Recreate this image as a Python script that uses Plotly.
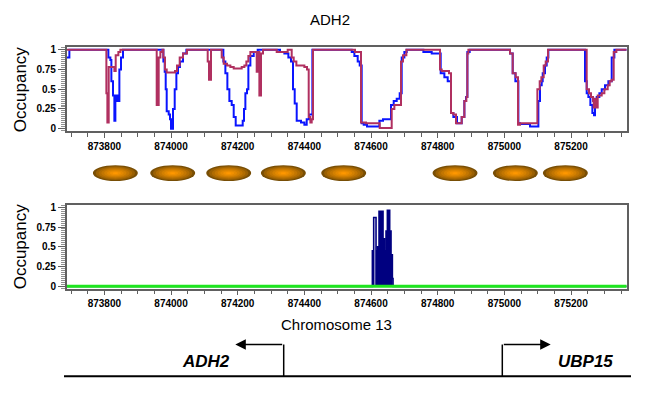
import plotly.graph_objects as go

# ---------------- data ----------------
x_range = [873687, 875367]

blue_pos = [873687, 873695,
            873812, 873818, 873821, 873826, 873830, 873833, 873839, 873845, 873850, 873856,
            873977, 873981, 873984, 873987, 873993, 873997, 874000, 874006, 874011, 874016, 874021, 874027, 874036, 874046,
            874157, 874163, 874169, 874175, 874182, 874188, 874194, 874215, 874219, 874223, 874228, 874232, 874238, 874248, 874260,
            874327, 874340, 874352, 874360, 874366, 874371, 874377, 874390, 874400, 874407, 874414, 874424,
            874542, 874550, 874560, 874566, 874572, 874578, 874588, 874625, 874636, 874660, 874668, 874677, 874686, 874692, 874700, 874707, 874757, 874782,
            874809, 874820, 874830, 874840, 874847, 874858, 874872, 874880, 874885, 874889, 874896,
            875017, 875025, 875033, 875042, 875047, 875077, 875102, 875107, 875112, 875115, 875122, 875127, 875132,
            875242, 875247, 875252, 875258, 875264, 875269, 875272, 875277, 875285, 875292, 875302, 875312, 875322, 875330, 875367]
blue_occ = [0.9, 1.0,
            0.9, 0.87, 0.6, 0.42, 0.1, 0.42, 0.35, 0.75, 0.9, 1.0,
            0.85, 0.72, 0.5, 0.22, 0.18, 0.12, 0.0, 0.25, 0.5, 0.7, 0.78, 0.85, 0.95, 1.0,
            0.85, 0.7, 0.5, 0.35, 0.3, 0.15, 0.04, 0.1, 0.25, 0.45, 0.5, 0.8, 0.92, 0.97, 1.0,
            0.97, 0.95, 0.9, 0.85, 0.5, 0.32, 0.1, 0.08, 0.05, 0.12, 0.18, 1.0,
            0.97, 0.92, 0.85, 0.8, 0.07, 0.05, 0.03, 0.1, 0.12, 0.3, 0.35, 0.38, 0.45, 0.9, 0.97, 1.0, 0.97, 0.95,
            0.7, 0.65, 0.6, 0.2, 0.15, 0.07, 0.15, 0.35, 0.4, 0.97, 1.0,
            0.95, 0.7, 0.6, 0.07, 0.06, 0.03, 0.35, 0.55, 0.6, 0.7, 0.8, 0.9, 1.0,
            0.6, 0.45, 0.4, 0.3, 0.2, 0.17, 0.35, 0.4, 0.45, 0.5, 0.55, 0.6, 0.9, 1.0, 1.0]

red_pos = [873687,
           873806, 873809, 873813, 873830, 873834, 873842, 873848,
           873957, 873963, 873968, 873974, 873977, 873982, 873987, 874012, 874018, 874026, 874036, 874048,
           874110, 874114, 874120,
           874152, 874158, 874168, 874178, 874188, 874212, 874220, 874226, 874232, 874238, 874257, 874262, 874265, 874270, 874276,
           874317, 874350, 874362, 874368, 874376, 874400, 874408, 874413, 874418, 874422, 874426,
           874552, 874570, 874585, 874626, 874662, 874670, 874690, 874696, 874706,
           874807, 874812, 874834, 874840, 874847, 874855, 874872, 874880, 874886, 874889, 874892,
           875017, 875025, 875034, 875041, 875047, 875099, 875106, 875111, 875118, 875124, 875131,
           875247, 875254, 875260, 875266, 875268, 875270, 875272, 875274, 875277, 875280, 875292, 875300, 875310, 875316, 875322, 875328, 875336, 875367]
red_occ = [1.0,
           0.45, 0.08, 0.78, 0.73, 0.93, 0.97, 1.0,
           0.3, 0.9, 0.97, 1.0, 0.9, 0.75, 0.71, 0.73, 0.8, 0.9, 0.95, 1.0,
           0.85, 0.62, 1.0,
           0.9, 0.82, 0.8, 0.78, 0.76, 0.78, 0.8, 0.85, 0.92, 0.97, 0.72, 0.97, 0.42, 0.95, 1.0,
           0.97, 1.0, 0.9, 0.85, 0.8, 0.78, 0.75, 0.15, 0.08, 0.12, 1.0,
           0.97, 0.08, 0.07, 0.01, 0.25, 0.3, 0.85, 0.93, 1.0,
           0.75, 0.73, 0.7, 0.2, 0.18, 0.07, 0.15, 0.35, 0.4, 0.95, 1.0,
           0.95, 0.7, 0.65, 0.05, 0.07, 0.5, 0.6, 0.65, 0.8, 0.85, 1.0,
           0.5, 0.45, 0.4, 0.35, 0.27, 0.38, 0.27, 0.38, 0.27, 0.42, 0.45, 0.5, 0.55, 0.6, 0.62, 0.97, 1.0, 1.0]

bound_pos = [873687, 874603, 874604, 874607, 874608, 874615, 874617, 874619, 874620, 874623, 874624,
             874627, 874628, 874632, 874633, 874636, 874637, 874640, 874641, 874644, 874645,
             874648, 874649, 874653, 874654, 874656, 874657, 874660, 874661, 874664, 874666, 875367]
bound_occ = [0.0, 0.0, 0.45, 0.02, 0.87, 0.02, 0.45, 0.02, 0.5, 0.02, 0.95,
             0.02, 0.95, 0.02, 0.95, 0.02, 0.6, 0.02, 0.45, 0.02, 0.7,
             0.02, 0.96, 0.02, 0.96, 0.02, 0.7, 0.02, 0.4, 0.1, 0.0, 0.0]

baseline_pos = [873687, 875367]
baseline_occ = [0.0, 0.0]

nucleosome_centers = [873833, 874005, 874173, 874337, 874518, 874852, 875033, 875183]

y_tickvals = [0, 0.25, 0.5, 0.75, 1]
y_ticktext = ["0", "0.25", "0.5", "0.75", "1"]

# ---------------- figure ----------------
W, H = 648, 401
FONT = "Arial, Liberation Sans, sans-serif"

def px(x):
    return x / W

def py(y):
    return 1 - y / H

fig = go.Figure()
fig.add_trace(go.Scatter(x=blue_pos, y=blue_occ, mode="lines", line=dict(color="#0a14ff", width=2, shape="hv"),
                         xaxis="x", yaxis="y", showlegend=False))
fig.add_trace(go.Scatter(x=red_pos, y=red_occ, mode="lines", line=dict(color="#b03060", width=2, shape="hv"),
                         xaxis="x", yaxis="y", showlegend=False))
fig.add_trace(go.Scatter(x=bound_pos, y=bound_occ, mode="lines", line=dict(color="#000080", width=1.6, shape="hv"),
                         xaxis="x2", yaxis="y2", showlegend=False))
fig.add_trace(go.Scatter(x=baseline_pos, y=baseline_occ, mode="lines", line=dict(color="#1ee61e", width=3),
                         xaxis="x2", yaxis="y2", showlegend=False))

xdom = [px(66.7), px(626.7)]
yr = [-0.029, 1.029]
tickfont = dict(family=FONT, size=10, color="black", weight="bold")

def xax(anchor):
    return dict(domain=xdom, range=x_range, anchor=anchor, showline=True, mirror=True,
                linecolor="#606060", linewidth=1.5, ticks="outside", ticklen=5, tickcolor="#606060",
                dtick=200, tick0=0, tickformat="d", tickfont=tickfont, showgrid=False, zeroline=False,
                minor=dict(dtick=50, ticks="outside", ticklen=4, tickcolor="#606060", showgrid=False))

def yax(dom, anchor):
    return dict(domain=dom, range=yr, anchor=anchor, showline=True, mirror=True,
                linecolor="#606060", linewidth=1.5, ticks="outside", ticklen=7, tickcolor="#606060",
                tickvals=y_tickvals, ticktext=y_ticktext, tickfont=tickfont, showgrid=False, zeroline=False,
                minor=dict(dtick=0.025, ticks="outside", ticklen=4, tickcolor="#909090", showgrid=False))

shapes = []
# nucleosome ellipses with layered "gradient"
n_layers = 8
edge = (120, 78, 5)
center = (255, 152, 0)
yc = 172.7
half_w_bp = 67.5
half_h = 8.0
for c in nucleosome_centers:
    for k in range(n_layers):
        s = 1 - k / n_layers
        t = (k / (n_layers - 1)) ** 0.7
        col = tuple(int(edge[i] + (center[i] - edge[i]) * t) for i in range(3))
        shapes.append(dict(type="circle", xref="x", yref="paper",
                           x0=c - half_w_bp * s, x1=c + half_w_bp * s,
                           y0=py(yc + half_h * s), y1=py(yc - half_h * s),
                           fillcolor="rgb(%d,%d,%d)" % col, line=dict(width=0), layer="above"))

# gene diagram
shapes.append(dict(type="line", xref="paper", yref="paper", x0=px(64), x1=px(631), y0=py(379), y1=py(379),
                   line=dict(color="black", width=2)))
shapes.append(dict(type="line", xref="paper", yref="paper", x0=px(283.7), x1=px(283.7), y0=py(379), y1=py(346.7),
                   line=dict(color="black", width=1.5)))
shapes.append(dict(type="line", xref="paper", yref="paper", x0=px(502.3), x1=px(502.3), y0=py(379), y1=py(346.7),
                   line=dict(color="black", width=1.5)))

def label(text, x, y, size, angle=0):
    return dict(text=text, x=px(x), y=py(y), xref="paper", yref="paper", showarrow=False,
                xanchor="center", yanchor="middle", textangle=angle,
                font=dict(family=FONT, size=size, color="black"))

annotations = [
    label("ADH2", 330, 17, 15),
    label("Occupancy", 20, 87.5, 17, -90),
    label("Occupancy", 20, 247, 17, -90),
    label("Chromosome 13", 336, 326, 15),
    label("<b><i>ADH2</i></b>", 206, 364, 17),
    label("<b><i>UBP15</i></b>", 585, 364, 17),
    dict(text="", x=px(235.3), y=py(346.7), xref="paper", yref="paper", showarrow=True,
         ax=48.4, ay=0, arrowhead=2, arrowsize=1.4, arrowwidth=1.5, arrowcolor="black"),
    dict(text="", x=px(550.7), y=py(346.7), xref="paper", yref="paper", showarrow=True,
         ax=-48.4, ay=0, arrowhead=2, arrowsize=1.4, arrowwidth=1.5, arrowcolor="black"),
]

fig.update_layout(
    width=W, height=H, margin=dict(l=0, r=0, t=0, b=0),
    paper_bgcolor="white", plot_bgcolor="white",
    xaxis=xax("y"), yaxis=yax([py(130), py(45)], "x"),
    xaxis2=xax("y2"), yaxis2=yax([py(290), py(205)], "x2"),
    shapes=shapes, annotations=annotations, showlegend=False,
    font=dict(family=FONT),
)

fig.write_html("out.html", config={"displayModeBar": False},
               post_script="document.body.style.margin='0';document.body.style.overflow='hidden';")
